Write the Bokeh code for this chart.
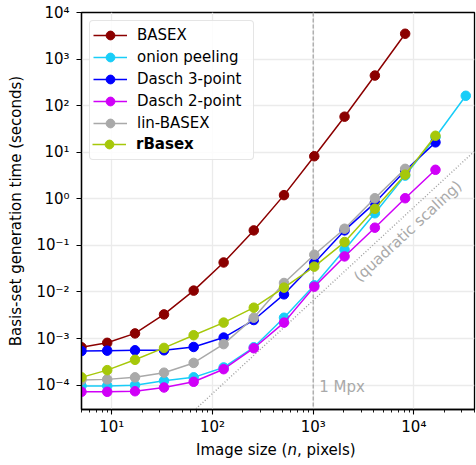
from bokeh.plotting import figure
from bokeh.models import (Range1d, FixedTicker, CustomJSTickFormatter, Legend,
                          LegendItem, Label, Span, Div)
from bokeh.layouts import column
from bokeh.embed import file_html
from bokeh.resources import INLINE

# ---------------- data ----------------
N = [5, 9, 17, 33, 65, 129, 257, 513, 1025, 2049, 4097, 8193, 16385, 32769]

basex = [6.5e-4, 8.1e-4, 1.29e-3, 3.3e-3, 1.07e-2, 4.3e-2, 0.21, 1.2, 8.2, 58, 443, 3500]
onion = [9.6e-5, 9.6e-5, 1.0e-4, 1.24e-4, 1.47e-4, 2.4e-4, 6.5e-4, 2.8e-3, 1.39e-2,
         8.1e-2, 0.49, 3.15, 21, 163]
dasch3 = [5.4e-4, 5.5e-4, 5.6e-4, 5.6e-4, 6.6e-4, 1.05e-3, 2.5e-3, 8.9e-3, 4.2e-2,
          0.21, 0.82, 4.0, 16.3]
dasch2 = [7.2e-5, 7.2e-5, 7.4e-5, 8.9e-5, 1.18e-4, 2.2e-4, 6.2e-4, 2.2e-3, 1.3e-2,
          5.8e-2, 0.24, 1.03, 4.2]
linbasex = [1.29e-4, 1.33e-4, 1.47e-4, 1.85e-4, 3.0e-4, 7.6e-4, 2.8e-3, 1.56e-2,
            6.3e-2, 0.228, 1.03, 4.4]
rbasex = [1.47e-4, 2.1e-4, 3.5e-4, 6.3e-4, 1.18e-3, 2.2e-3, 4.6e-3, 1.24e-2, 3.5e-2,
          0.118, 0.61, 3.3, 22.6]

names = ["BASEX", "onion peeling", "Dasch 3-point", "Dasch 2-point", "lin-BASEX", "rBasex"]
values = [basex, onion, dasch3, dasch2, linbasex, rbasex]
colors = ["#8b0000", "#18cdf8", "#0000ff", "#d000f8", "#a9a9a9", "#a6c80a"]

X_TICKS = [10, 100, 1000, 10000]
Y_TICKS = [1e-4, 1e-3, 1e-2, 1e-1, 1, 10, 100, 1000, 1e4]
QUAD_COEF = 6.6e-9   # reference line t = C * n^2
MPX_N = 1000

FONT = "DejaVu Sans"
FS = "15px"
GRAY_TXT = "#a9a9a9"

p = figure(width=476, height=438, x_axis_type="log", y_axis_type="log",
           x_range=Range1d(5, 4e4), y_range=Range1d(3e-5, 1e4),
           output_backend="svg", toolbar_location=None,
           min_border_left=81, min_border_right=2, min_border_top=12,
           min_border_bottom=29)
p.background_fill_color = "white"
p.border_fill_color = "white"
p.outline_line_color = "black"
p.outline_line_width = 1.3
p.outline_line_alpha = 1.0

xt = FixedTicker(ticks=X_TICKS,
                 minor_ticks=[m * 10 ** k for k in range(0, 5) for m in range(2, 10)])
yt = FixedTicker(ticks=Y_TICKS, minor_ticks=[])
p.xaxis.ticker = xt
p.yaxis.ticker = yt
p.xgrid.ticker = xt
p.ygrid.ticker = yt

fmt = CustomJSTickFormatter(code=r"""
const sup = {"0":"\u2070","1":"\u00b9","2":"\u00b2","3":"\u00b3","4":"\u2074",
             "5":"\u2075","6":"\u2076","7":"\u2077","8":"\u2078","9":"\u2079","-":"\u207b"};
const e = Math.round(Math.log10(tick));
return "10" + String(e).split("").map(c => sup[c]).join("");
""")

for ax in (p.xaxis[0], p.yaxis[0]):
    ax.formatter = fmt
    ax.major_label_text_font = FONT
    ax.major_label_text_font_size = FS
    ax.major_label_text_color = "black"
    ax.axis_line_color = "black"
    ax.axis_line_width = 1.3
    ax.major_tick_line_color = "black"
    ax.major_tick_line_width = 1.1
    ax.major_tick_in = 0
    ax.major_tick_out = 5
    ax.minor_tick_line_color = "black"
    ax.minor_tick_line_width = 0.9
    ax.minor_tick_in = 0
    ax.minor_tick_out = 3
    ax.axis_label_text_font = FONT
    ax.axis_label_text_font_size = FS
    ax.axis_label_text_font_style = "normal"
    ax.axis_label_text_color = "black"

p.yaxis.minor_tick_line_color = None
p.xaxis.major_label_standoff = 3
p.yaxis.major_label_standoff = 7
p.yaxis.axis_label = "Basis-set generation time (seconds)"
p.yaxis.axis_label_standoff = 8

p.grid.grid_line_color = "#ebebeb"
p.grid.grid_line_width = 1.3

# reference lines
p.add_layout(Span(location=MPX_N, dimension="height", line_color="#a0a0a0",
                  line_dash="4 2", line_width=1.2, level="underlay"))
qx = [p.x_range.start, p.x_range.end]
p.line(qx, [QUAD_COEF * v ** 2 for v in qx], line_color="#a0a0a0",
       line_dash="1 2", line_width=1.4)

# invisible placeholder so the boxed legend's last row shows no glyph of its own
blank = p.line([], [], line_alpha=0)

items = []
rb_renderers = None
for name, vals, col in zip(names, values, colors):
    nn = N[:len(vals)]
    r1 = p.line(nn, vals, line_color=col, line_width=1.5)
    r2 = p.scatter(nn, vals, size=9.5, fill_color=col, line_color=col)
    if name == "rBasex":
        rb_renderers = [r1, r2]
        items.append(LegendItem(label=" ", renderers=[blank]))
    else:
        items.append(LegendItem(label=name, renderers=[r1, r2]))

common = dict(glyph_width=34, glyph_height=22, label_height=22, label_width=113,
              label_standoff=10, label_text_font=FONT, label_text_font_size=FS,
              label_text_color="black", spacing=0)

legend = Legend(items=items, location="top_left", margin=8, padding=3,
                border_line_color="#cccccc", border_line_width=1,
                background_fill_color="white", background_fill_alpha=0.85, **common)
try:
    legend.border_radius = 4
except Exception:
    pass
p.add_layout(legend)

# bold entry drawn over the last legend row
legend_b = Legend(items=[LegendItem(label="rBasex", renderers=rb_renderers)],
                  location=(11, 254), margin=0, padding=0,
                  border_line_color=None, background_fill_alpha=0.0,
                  label_text_font_style="bold", **common)
p.add_layout(legend_b)

# annotations
p.add_layout(Label(x=MPX_N, y=9.1e-5, x_offset=6, text="1 Mpx", text_font=FONT,
                   text_font_size=FS, text_color=GRAY_TXT, text_baseline="middle"))
p.add_layout(Label(x=8700, y=0.2, text="(quadratic scaling)", angle=42.8,
                   angle_units="deg", text_align="center", text_baseline="middle",
                   text_font=FONT, text_font_size=FS, text_color=GRAY_TXT))

# x-axis label with italic n
xlabel = Div(text="Image size (<i>n</i>, pixels)", width=476, height=27,
             styles={"font-family": "DejaVu Sans", "font-size": "15px",
                     "line-height": "24px", "padding-left": "196px", "color": "black",
                     "white-space": "nowrap", "background-color": "white"})
xlabel.margin = (0, 0, 0, 0)

layout = column(p, xlabel, spacing=0)
layout.margin = (0, 0, 0, 0)

with open("out.html", "w", encoding="utf-8") as f:
    f.write(file_html(layout, INLINE))
